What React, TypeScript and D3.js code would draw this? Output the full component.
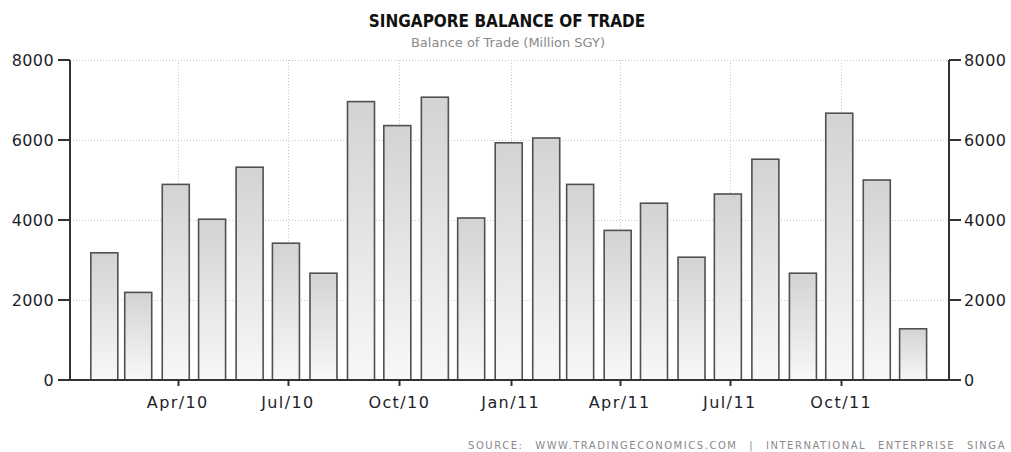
import React, { useEffect, useRef } from 'react';
import * as d3 from 'd3';

// monthly balance of trade, Feb/10 .. Dec/11 (million SGD)
const months = [
  '2010-02', '2010-03', '2010-04', '2010-05', '2010-06', '2010-07', '2010-08', '2010-09',
  '2010-10', '2010-11', '2010-12', '2011-01', '2011-02', '2011-03', '2011-04', '2011-05',
  '2011-06', '2011-07', '2011-08', '2011-09', '2011-10', '2011-11', '2011-12',
];
const values = [
  3180, 2190, 4890, 4020, 5320, 3420, 2670, 6960,
  6360, 7070, 4050, 5930, 6050, 4890, 3740, 4420,
  3070, 4650, 5520, 2670, 6670, 5000, 1280,
];
const yTicks = [0, 2000, 4000, 6000, 8000];

const W = 1011;
const H = 452;
const FONT = "'DejaVu Sans', sans-serif";
const TITLE_FONT = "'DejaVu Sans Condensed', 'DejaVu Sans', sans-serif";

const BarChart = () => {
  const ref = useRef<SVGSVGElement>(null);

  useEffect(() => {
    const svg = d3.select(ref.current);
    svg.selectAll('*').remove();

    const left = 70;
    const right = 949;
    const top = 60;
    const bottom = 380;

    const parse = d3.timeParse('%Y-%m');
    const data = months.map((m, i) => ({ date: parse(m) as Date, value: values[i] }));

    const x = d3
      .scaleTime()
      .domain([new Date(2010, 0, 2), new Date(2011, 11, 29)])
      .range([left, right]);
    const y = d3.scaleLinear().domain([0, 8000]).range([bottom, top]);
    const barW = 27;
    const shift = -2; // bars sit a touch left of the month mark

    const defs = svg.append('defs');
    const grad = defs
      .append('linearGradient')
      .attr('id', 'barGrad')
      .attr('x1', 0)
      .attr('y1', 0)
      .attr('x2', 0)
      .attr('y2', 1);
    grad.append('stop').attr('offset', '0%').attr('stop-color', '#d3d3d3');
    grad.append('stop').attr('offset', '100%').attr('stop-color', '#f8f8f8');

    // titles
    svg
      .append('text')
      .attr('x', 507)
      .attr('y', 27)
      .attr('text-anchor', 'middle')
      .style('font-family', TITLE_FONT)
      .style('font-weight', 'bold')
      .style('font-size', '17px')
      .style('fill', '#111')
      .text('SINGAPORE BALANCE OF TRADE');
    svg
      .append('text')
      .attr('x', 508)
      .attr('y', 47)
      .attr('text-anchor', 'middle')
      .style('font-family', FONT)
      .style('font-size', '13px')
      .style('fill', '#8a8a8a')
      .text('Balance of Trade (Million SGY)');

    const xTicks = x.ticks(d3.timeMonth.every(3) as d3.TimeInterval);

    // grid
    const grid = svg.append('g').attr('stroke', '#c8c8c8').attr('stroke-dasharray', '1,2');
    grid
      .selectAll('.hg')
      .data(yTicks.filter(t => t > 0))
      .enter()
      .append('line')
      .attr('x1', left)
      .attr('x2', right)
      .attr('y1', d => y(d) + 0.5)
      .attr('y2', d => y(d) + 0.5);
    grid
      .selectAll('.vg')
      .data(xTicks)
      .enter()
      .append('line')
      .attr('x1', d => Math.round(x(d)) + 0.5)
      .attr('x2', d => Math.round(x(d)) + 0.5)
      .attr('y1', top)
      .attr('y2', bottom);

    // bars
    svg
      .append('g')
      .selectAll('rect')
      .data(data)
      .enter()
      .append('rect')
      .attr('x', d => x(d.date) + shift - barW / 2)
      .attr('y', d => y(d.value))
      .attr('width', barW)
      .attr('height', d => y(0) - y(d.value))
      .attr('fill', 'url(#barGrad)')
      .attr('stroke', '#505050')
      .attr('stroke-width', 1.6);

    // axes
    const axisColor = '#333';
    const axisLine = (x1: number, y1: number, x2: number, y2: number) =>
      svg
        .append('line')
        .attr('x1', x1)
        .attr('y1', y1)
        .attr('x2', x2)
        .attr('y2', y2)
        .attr('stroke', axisColor)
        .attr('stroke-width', 2);
    axisLine(left, top, left, bottom);
    axisLine(right, top, right, bottom);
    axisLine(left, bottom, right, bottom);

    const yl = svg.append('g');
    yTicks.forEach(t => {
      axisLine(left - 12, y(t), left, y(t));
      axisLine(right, y(t), right + 12, y(t));
      yl.append('text')
        .attr('x', left - 16)
        .attr('y', y(t))
        .attr('dy', '0.36em')
        .attr('text-anchor', 'end')
        .style('font-family', FONT)
        .style('font-size', '16px')
        .style('letter-spacing', '0.4px')
        .style('fill', '#1e1e2a')
        .text(t);
      yl.append('text')
        .attr('x', right + 15)
        .attr('y', y(t))
        .attr('dy', '0.36em')
        .attr('text-anchor', 'start')
        .style('font-family', FONT)
        .style('font-size', '16px')
        .style('letter-spacing', '0.4px')
        .style('fill', '#1e1e2a')
        .text(t);
    });

    const fmt = d3.timeFormat('%b/%y');
    const xl = svg.append('g');
    xTicks.forEach(d => {
      axisLine(Math.round(x(d)) + 0.5, bottom, Math.round(x(d)) + 0.5, bottom + 6);
      xl.append('text')
        .attr('x', x(d))
        .attr('y', 408)
        .attr('text-anchor', 'middle')
        .style('font-family', FONT)
        .style('font-size', '16px')
        .style('letter-spacing', '1.4px')
        .style('fill', '#1e1e2a')
        .text(fmt(d));
    });

    // source note (the original is cropped after "SINGA")
    svg
      .append('text')
      .attr('x', 468)
      .attr('y', 449)
      .attr('textLength', 538)
      .attr('lengthAdjust', 'spacing')
      .style('font-family', FONT)
      .style('font-size', '10px')
      .style('letter-spacing', '1.5px')
      .style('word-spacing', '7px')
      .style('fill', '#8a8a8a')
      .text('SOURCE: WWW.TRADINGECONOMICS.COM | INTERNATIONAL ENTERPRISE SINGA');
  }, []);

  return (
    <svg
      ref={ref}
      width={W}
      height={H}
      style={{ position: 'absolute', left: 0, top: 0, background: '#fff' }}
    ></svg>
  );
};

export default function App() {
  return <BarChart />;
}
